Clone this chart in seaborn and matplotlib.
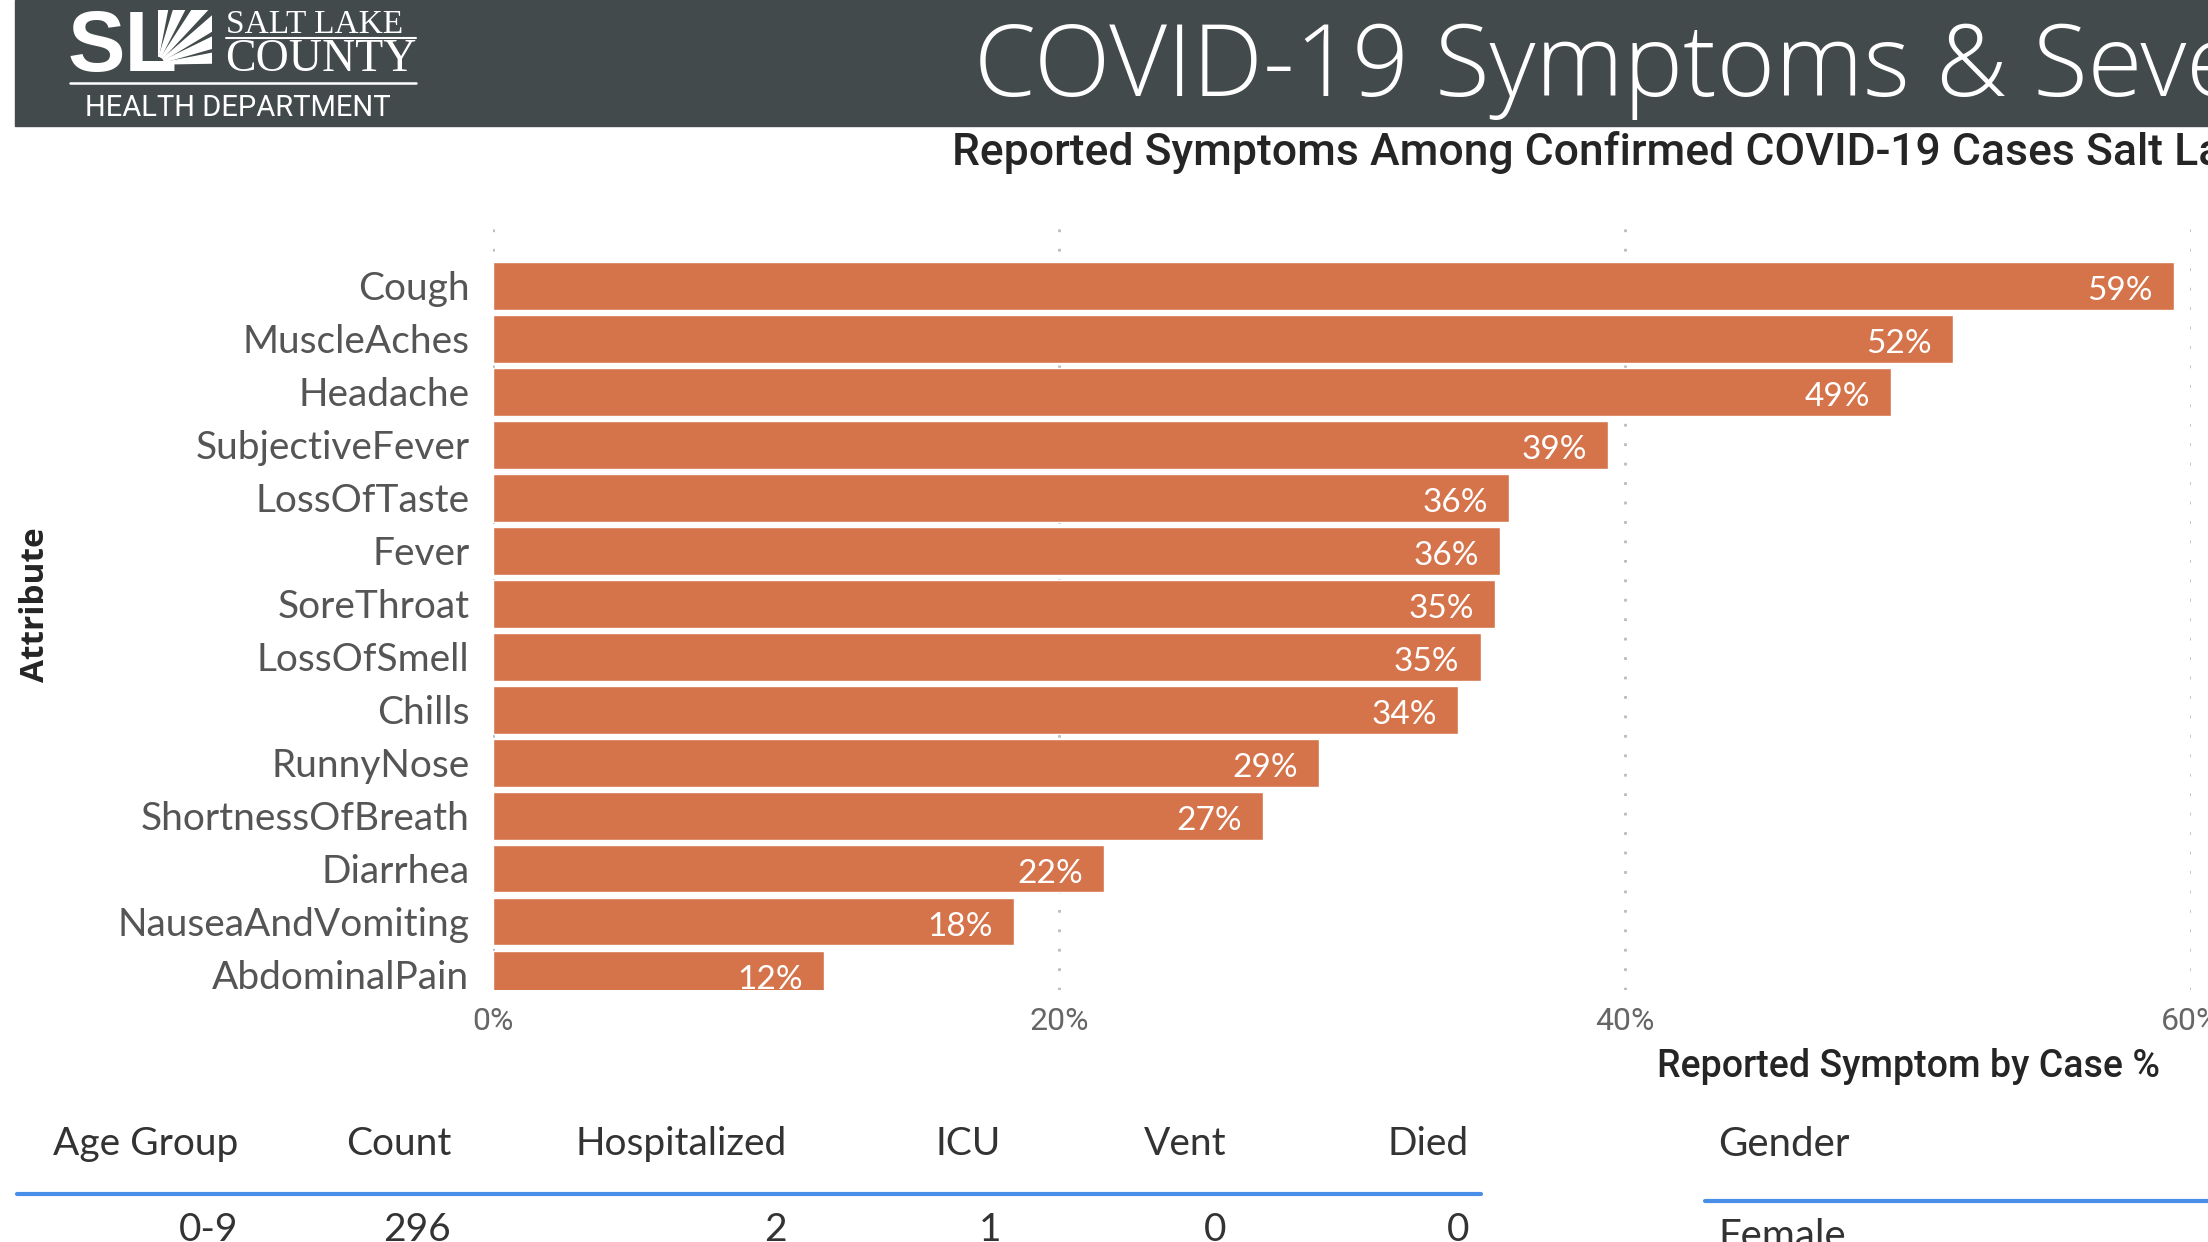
import matplotlib
matplotlib.use('Agg')
import matplotlib.pyplot as plt
import matplotlib.patches as mpatches
import matplotlib.lines as mlines
import numpy as np
import seaborn as sns

# データ
symptoms = ['Cough', 'MuscleAches', 'Headache', 'SubjectiveFever', 'LossOfTaste',
            'Fever', 'SoreThroat', 'LossOfSmell', 'Chills', 'RunnyNose',
            'ShortnessOfBreath', 'Diarrhea', 'NauseaAndVomiting', 'AbdominalPain']
pct = [59.4, 51.6, 49.4, 39.4, 35.9, 35.6, 35.4, 34.9, 34.1, 29.2, 27.2, 21.6, 18.4, 11.7]
x_ticks = [0, 20, 40, 60]

table_cols = ['Age Group', 'Count', 'Hospitalized', 'ICU', 'Vent', 'Died']
table_row = ['0-9', '296', '2', '1', '0', '0']
gender_col = 'Gender'
gender_row = 'Female'

title = 'COVID-19 Symptoms & Severity'
subtitle = 'Reported Symptoms Among Confirmed COVID-19 Cases Salt Lake County'

bar_color = '#D5734A'
band_color = '#434A4C'
blue = '#4A8FE7'

sns.set_style('white')
plt.rcParams['font.family'] = ['Lato', 'DejaVu Sans']

W, H = 2208, 1242
def fx(px):
    return px / W
def fy(py):
    return 1 - py / H

fig = plt.figure(figsize=(W / 100, H / 100), dpi=100)

# ヘッダー帯
fig.patches.append(mpatches.Rectangle((fx(15), fy(126)), 1 - fx(15), 126 / H,
                                      transform=fig.transFigure, color=band_color, zorder=0))
fig.text(fx(974), fy(96), title, color='white', fontsize=72,
         family=['Open Sans', 'DejaVu Sans'], fontweight='light',
         va='baseline', ha='left')

# ロゴ
fig.text(fx(68), fy(71), 'SL', color='white', fontsize=62, fontweight='bold',
         family=['Liberation Sans', 'DejaVu Sans'], va='baseline', ha='left')
clip = mpatches.Rectangle((fx(158), fy(66)), fx(212) - fx(158), (66 - 10) / H,
                          transform=fig.transFigure, visible=False)
fig.patches.append(clip)
cx, cy = 157, 64
for ang in [84, 68, 52, 36, 21, 6]:
    a1, a2 = np.radians(ang - 5), np.radians(ang + 5)
    r0, r1 = 8, 110
    pts = [(cx + r0 * np.cos(a1), cy - r0 * np.sin(a1)),
           (cx + r1 * np.cos(a1), cy - r1 * np.sin(a1)),
           (cx + r1 * np.cos(a2), cy - r1 * np.sin(a2)),
           (cx + r0 * np.cos(a2), cy - r0 * np.sin(a2))]
    pts = [(fx(p[0]), fy(p[1])) for p in pts]
    ray = mpatches.Polygon(pts, closed=True, transform=fig.transFigure,
                           color='white', zorder=2)
    ray.set_clip_path(clip)
    fig.patches.append(ray)
fig.text(fx(226), fy(33), 'SALT LAKE', color='white', fontsize=24,
         family=['Liberation Serif', 'DejaVu Serif'], va='baseline', ha='left')
fig.text(fx(225), fy(71), 'COUNTY', color='white', fontsize=33,
         family=['Liberation Serif', 'DejaVu Serif'], va='baseline', ha='left')
fig.lines.append(mlines.Line2D([fx(226), fx(416)], [fy(38), fy(38)], color='white',
                               lw=1.5, transform=fig.transFigure))
fig.lines.append(mlines.Line2D([fx(70), fx(416)], [fy(83), fy(83)], color='white',
                               lw=1.8, transform=fig.transFigure))
fig.text(fx(85), fy(116), 'HEALTH DEPARTMENT', color='white', fontsize=21,
         family=['Roboto', 'DejaVu Sans'], va='baseline', ha='left')

# サブタイトル
fig.text(fx(952), fy(165), subtitle, color='#252525', fontsize=32, fontweight='medium',
         family=['Roboto', 'DejaVu Sans'], va='baseline', ha='left')

# 棒グラフ
ax = fig.add_axes([fx(493), fy(990), fx(2191) - fx(493), (990 - 228) / H])
sns.barplot(x=pct, y=symptoms, orient='h', color=bar_color, saturation=1,
            width=0.9, ax=ax)
ax.set_xlim(0, 60)
ax.set_ylim(13.29, -1.09)
ax.set_xticks(x_ticks)
ax.set_xticklabels([f'{t}%' for t in x_ticks], color='#666666', fontsize=23,
                   family=['Roboto', 'DejaVu Sans'])
ax.tick_params(axis='y', labelsize=28, labelcolor='#555555', length=0, pad=17)
ax.tick_params(axis='x', length=0, pad=12)
ax.xaxis.grid(True, linestyle=(0, (1, 6)), color='#BBBBBB', linewidth=2)
ax.yaxis.grid(False)
ax.set_axisbelow(True)
for s in ax.spines.values():
    s.set_visible(False)

for i, v in enumerate(pct):
    ax.text(v - 0.75, i + 0.1, f'{v:.0f}%', ha='right', va='center', color='white',
            fontsize=24, clip_on=True)

ax.set_ylabel('')
ax.set_xlabel('')
fig.text(fx(36), fy(605), 'Attribute', rotation=90, fontsize=24, fontweight='bold',
         family=['Open Sans', 'DejaVu Sans'], color='#252525', ha='center', va='center')
fig.text(fx(2160), fy(1077), 'Reported Symptom by Case %', color='#252525', fontsize=27,
         fontweight='medium', family=['Roboto', 'DejaVu Sans'], ha='right', va='baseline')

# 下の表
col_right = [238, 451, 787, 1001, 1226, 1469]
for name, val, xr in zip(table_cols, table_row, col_right):
    fig.text(fx(xr), fy(1144), name, color='#333333', fontsize=28, ha='right', va='center')
    fig.text(fx(xr), fy(1212), val, color='#333333', fontsize=28, ha='right', va='top')
fig.lines.append(mlines.Line2D([fx(17), fx(1481)], [fy(1194), fy(1194)], color=blue,
                               lw=3, transform=fig.transFigure))
fig.text(fx(1718), fy(1145), gender_col, color='#333333', fontsize=29, ha='left', va='center')
fig.text(fx(1718), fy(1218), gender_row, color='#333333', fontsize=29, ha='left', va='top')
fig.lines.append(mlines.Line2D([fx(1705), 1], [fy(1201), fy(1201)], color=blue,
                               lw=3, transform=fig.transFigure))

fig.savefig('out.png', dpi=100)
